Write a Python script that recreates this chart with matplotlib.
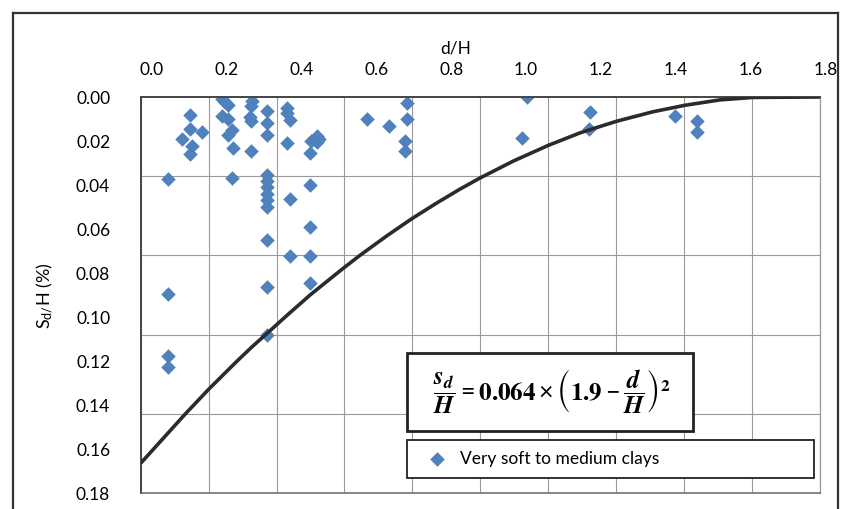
import numpy as np
import matplotlib.pyplot as plt
from matplotlib.patches import Rectangle
from matplotlib.lines import Line2D

plt.rcParams['font.family'] = ['Lato', 'DejaVu Sans']
plt.rcParams['mathtext.default'] = 'regular'

d_h = [0.044, 0.044, 0.044, 0.044,
       0.102, 0.102, 0.102, 0.134, 0.080, 0.107,
       0.188, 0.196, 0.204, 0.188, 0.204, 0.214, 0.205, 0.216, 0.214,
       0.267, 0.265, 0.263, 0.265, 0.264,
       0.307, 0.307, 0.307, 0.307, 0.307, 0.307, 0.307, 0.307, 0.307,
       0.307, 0.307, 0.307,
       0.361, 0.361, 0.369, 0.361, 0.369, 0.369,
       0.441, 0.425, 0.441, 0.447, 0.424, 0.424, 0.424, 0.424, 0.424,
       0.576, 0.634, 0.682, 0.682, 0.677, 0.677,
       1.001, 0.990, 1.170, 1.169, 1.397, 1.455, 1.455]
s_h = [0.0373, 0.0895, 0.1177, 0.1227,
       0.0080, 0.0145, 0.0257, 0.0158, 0.0192, 0.0224,
       0.0007, 0.0022, 0.0036, 0.0086, 0.0102, 0.0150, 0.0173, 0.0232, 0.0366,
       0.0016, 0.0041, 0.0091, 0.0109, 0.0247,
       0.0065, 0.0118, 0.0171, 0.0355, 0.0382, 0.0411, 0.0441, 0.0470, 0.0502,
       0.0648, 0.0864, 0.1083,
       0.0051, 0.0074, 0.0106, 0.0210, 0.0464, 0.0724,
       0.0179, 0.0199, 0.0205, 0.0191, 0.0254, 0.0398, 0.0589, 0.0724, 0.0846,
       0.0098, 0.0134, 0.0028, 0.0102, 0.0201, 0.0245,
       0.0000, 0.0188, 0.0070, 0.0147, 0.0085, 0.0108, 0.0160]

# fitted curve
fit_x = [-0.029, 0.089, 0.153, 0.227, 0.267, 0.307, 0.365, 0.423, 0.463,
         0.512, 0.556, 0.628, 0.694, 0.761, 0.823, 0.877, 0.966, 1.059,
         1.144, 1.242, 1.339, 1.423, 1.518, 1.605, 1.785]
fit_y = [0.1664, 0.1442, 0.1327, 0.1202, 0.1137, 0.1076, 0.0987, 0.0900, 0.0845,
         0.0778, 0.0720, 0.0631, 0.0554, 0.0482, 0.0419, 0.0368, 0.0291, 0.0220,
         0.0163, 0.0110, 0.0067, 0.0038, 0.0013, 0.0002, 0.0000]

x_ticks = [0.0, 0.2, 0.4, 0.6, 0.8, 1.0, 1.2, 1.4, 1.6, 1.8]
y_ticks = [0.00, 0.02, 0.04, 0.06, 0.08, 0.10, 0.12, 0.14, 0.16, 0.18]
series_name = 'Very soft to medium clays'

W, H = 845, 509
fig = plt.figure(figsize=(W / 100, H / 100), dpi=100)
ax = fig.add_axes([140.7 / W, 16 / H, 679.3 / W, 396 / H])

xmin, xmax = -0.0294, 1.7848
ax.set_xlim(xmin, xmax)
ax.set_ylim(0.18, 0.0)

blue = '#4F81BD'
ax.scatter(d_h, s_h, marker='D', s=55, color=blue, linewidths=0, zorder=2,
           label=series_name)
ax.plot(fit_x, fit_y, color='#2b2b2b', lw=2.6, zorder=3,
        solid_joinstyle='round', solid_capstyle='butt')

# grid lines split the box in equal parts, labels sit on their own scale
ax.set_xticks(np.linspace(xmin, xmax, 11), minor=True)
ax.set_yticks(np.linspace(0, 0.18, 6), minor=True)
ax.grid(which='minor', color='#9a9a9a', lw=0.8)
ax.grid(which='major', visible=False)
ax.set_axisbelow(True)

in_range = [t for t in x_ticks if t <= xmax]
ax.xaxis.tick_top()
ax.set_xticks(in_range)
ax.set_xticklabels([f'{t:.1f}' for t in in_range])
ax.set_yticks(y_ticks)
ax.set_yticklabels([f'{t:.2f}' for t in y_ticks])
ax.tick_params(which='both', length=0)
ax.tick_params(axis='x', pad=14, labelsize=12.5)
ax.tick_params(axis='y', pad=22, labelsize=12.5)
for t in x_ticks:
    if t > xmax:
        ax.annotate(f'{t:.1f}', xy=(t, 1), xycoords=('data', 'axes fraction'),
                    xytext=(0, 14), textcoords='offset points', ha='center',
                    va='bottom', fontsize=12.5, annotation_clip=False)

for side in ['left', 'top']:
    ax.spines[side].set_color('#444444')
    ax.spines[side].set_linewidth(1.4)
ax.spines['bottom'].set_color('#666666')
ax.spines['bottom'].set_linewidth(1.1)
ax.spines['right'].set_color('#999999')
ax.spines['right'].set_linewidth(0.9)

fig.text(456 / W, 1 - 48 / H, 'd/H', ha='center', va='center', fontsize=12.5)
fig.text(45 / W, 1 - 296 / H, 'S$_{d/}$H (%)', ha='center', va='center',
         rotation=90, fontsize=13)

# equation box
ax.add_patch(Rectangle((0.392, 0.157), 0.421, 0.197, transform=ax.transAxes,
                       facecolor='white', edgecolor='#222222', lw=2, zorder=4))
ax.text(0.605, 0.258,
        r'$\dfrac{\mathbfit{s_d}}{\mathbfit{H}} = \mathbf{0.064} \times '
        r'\left(\mathbf{1.9} - \dfrac{\mathbfit{d}}{\mathbfit{H}}\right)^{\mathbf{2}}$',
        transform=ax.transAxes, ha='center', va='center', fontsize=18,
        math_fontfamily='stix', zorder=5)

leg = ax.legend(loc='center', bbox_to_anchor=(0.392, 0.033, 0.599, 0.106),
                bbox_transform=ax.transAxes, mode='expand', fancybox=False,
                edgecolor='#222222', framealpha=1, borderaxespad=0,
                scatterpoints=1, fontsize=12.5, handlelength=2.2,
                handletextpad=0.2, borderpad=0.65)
leg.get_frame().set_linewidth(1.3)
leg.set_zorder(6)

# outer frame of the figure
for xs, ys in [([13, 838], [13, 13]), ([13, 13], [13, H]), ([838, 838], [13, H])]:
    fig.add_artist(Line2D([x / W for x in xs], [1 - y / H for y in ys],
                          color='#333333', lw=1.6))

fig.savefig('out.png', dpi=100)
